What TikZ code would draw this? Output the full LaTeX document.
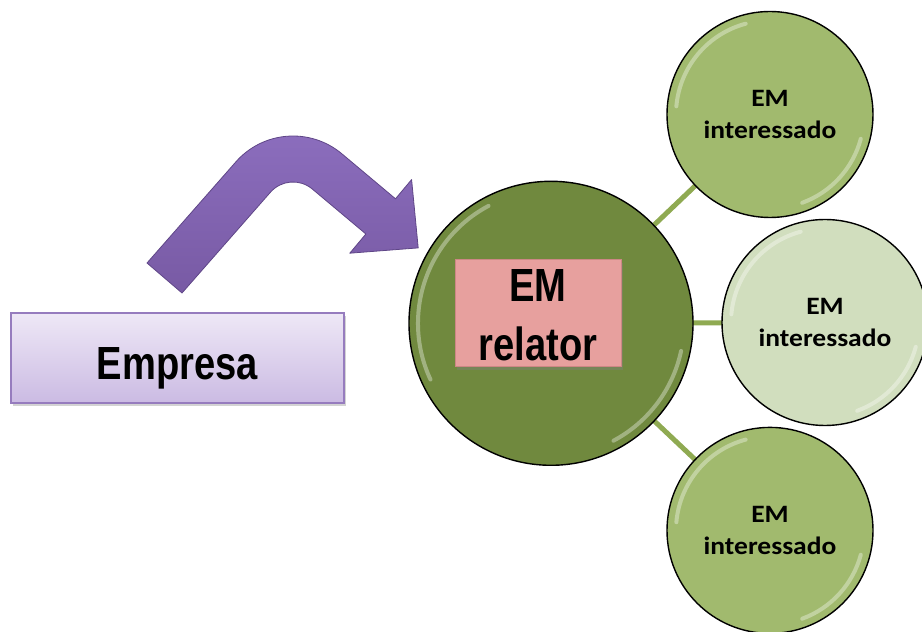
\documentclass[tikz,border=0pt]{standalone}
\usepackage{fontspec}
\setmainfont{Liberation Sans}
\newfontfamily\narrowfont[FakeStretch=0.82]{Liberation Sans}
\newfontfamily\calfont[FakeStretch=1.1]{Carlito}
\usetikzlibrary{shadows,calc}
\pgfdeclarelayer{background}
\pgfsetlayers{background,main}
\definecolor{arrowtop}{RGB}{140,110,190}
\definecolor{arrowbot}{RGB}{120,90,164}
\definecolor{arrowedge}{RGB}{95,70,135}
\definecolor{emptop}{RGB}{238,232,246}
\definecolor{empbot}{RGB}{203,187,227}
\definecolor{empedge}{RGB}{150,124,190}
\definecolor{relfill}{RGB}{231,160,158}
\definecolor{reledge}{RGB}{205,135,133}
\definecolor{bigfill}{RGB}{112,137,62}
\definecolor{smallfill}{RGB}{161,186,110}
\definecolor{midfill}{RGB}{209,222,190}
\definecolor{linkgreen}{RGB}{143,170,82}
\tikzset{
  bigcirc/.style={circle, inner sep=0pt, minimum size=284pt, fill=bigfill, draw=black, line width=1.4pt},
  smallcirc/.style={circle, inner sep=0pt, minimum size=206pt, fill=smallfill, draw=black, line width=1.4pt,
     align=center, font=\calfont\bfseries\fontsize{25}{31.3}\selectfont},
  link/.style={draw=linkgreen, line width=5pt},
  rim/.style={draw=white, line width=4pt, opacity=0.35, line cap=round},
  empbox/.style={rectangle, inner sep=0pt, minimum width=333pt, minimum height=90pt,
     top color=emptop, bottom color=empbot, draw=empedge, line width=1.5pt,
     drop shadow={shadow xshift=2pt, shadow yshift=-3pt, opacity=0.35}},
  relbox/.style={rectangle, inner sep=0pt, minimum width=166pt, minimum height=107pt,
     fill=relfill, draw=reledge, line width=1pt,
     drop shadow={shadow xshift=2pt, shadow yshift=-3pt, opacity=0.4}},
  bigtext/.style={inner sep=0pt, align=center, text=black,
     font=\narrowfont\bfseries\fontsize{46.5}{59}\selectfont}
}
\begin{document}
\begin{tikzpicture}[x=1pt,y=1pt]
\useasboundingbox (0,0) rectangle (922,632);

% curved arrow
\path[top color=arrowtop, bottom color=arrowbot, draw=arrowedge, line width=0.8pt, line join=round]
  (147,369) -- ($(293,420)+(139.4:76)$) arc[start angle=139.4, end angle=50, radius=76]
  -- (395.5,433.2) -- (411.6,452.4) -- (418.2,384.1) -- (349.8,378.8) -- (365.9,398)
  -- ($(293,420)+(50:30)$) arc[start angle=50, end angle=139.4, radius=30]
  -- (182,339) -- cycle;

% Empresa box
\node[empbox] (emp) at (177.5,274) {};
\node[bigtext, anchor=base] (emplabel) at (177.5,252.7) {Empresa};

% circles
\node[bigcirc] (rel) at (551,308.7) {};
\node[smallcirc] (i1) at (770,517.5) {EM\\interessado};
\node[smallcirc, fill=midfill] (i2) at (825,309.5) {EM\\interessado};
\node[smallcirc] (i3) at (770,101.6) {EM\\interessado};

\begin{pgfonlayer}{background}
  \draw[link] (rel.center) -- (i1.center);
  \draw[link] (rel.center) -- (i2.center);
  \draw[link] (rel.center) -- (i3.center);
\end{pgfonlayer}

% rim highlights
\draw[rim] ($(rel.center)+(118:133)$) arc[start angle=118, end angle=205, radius=133];
\draw[rim] ($(rel.center)+(-12:133)$) arc[start angle=-12, end angle=-62, radius=133];
\foreach \c in {i1,i2,i3}{
  \draw[rim] ($(\c.center)+(105:94)$) arc[start angle=105, end angle=175, radius=94];
  \draw[rim] ($(\c.center)+(-15:94)$) arc[start angle=-15, end angle=-70, radius=94];
}

% EM relator box
\node[relbox] (box) at (538,318.5) {};
\node[bigtext] (boxlabel) at (538,316.5) {EM\\relator};
\end{tikzpicture}
\end{document}
